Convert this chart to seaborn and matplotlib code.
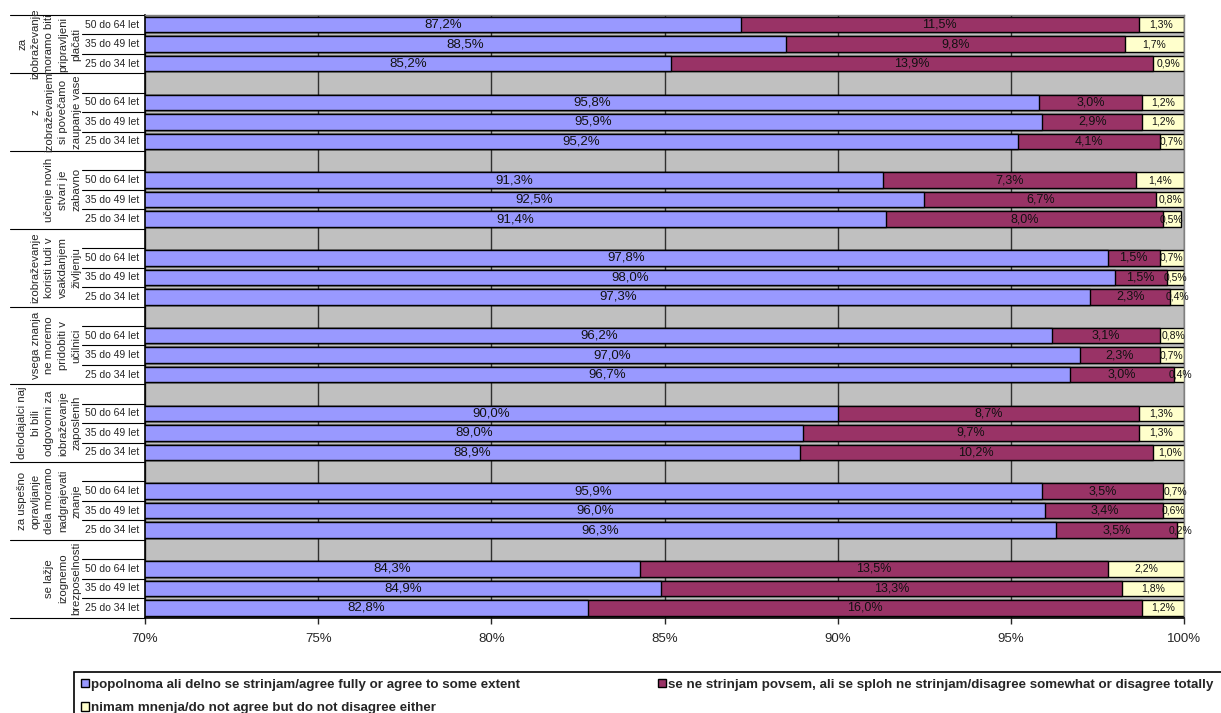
import matplotlib
matplotlib.use("Agg")
import matplotlib.pyplot as plt
import matplotlib.transforms as mtransforms
from matplotlib.patches import Patch, Rectangle
import pandas as pd
import seaborn as sns

# statements (top to bottom), each with three age groups
groups = [
    "za\nizobraževanje\nmoramo biti\npripravljeni\nplačati",
    "z\nizobraževanjem\nsi povečamo\nzaupanje vase",
    "učenje novih\nstvari je\nzabavno",
    "izobraževanje\nkoristi tudi v\nvsakdanjem\nživljenju",
    "vsega znanja\nne moremo\npridobiti v\nučilnici",
    "delodajalci naj\nbi bili\nodgovorni za\niobraževanje\nzaposlenih",
    "za uspešno\nopravljanje\ndela moramo\nnadgrajevati\nznanje",
    "se lažje\nizognemo\nbrezposelnosti",
]
ages = ["50 do 64 let", "35 do 49 let", "25 do 34 let"]

agree = [87.2, 88.5, 85.2,
         95.8, 95.9, 95.2,
         91.3, 92.5, 91.4,
         97.8, 98.0, 97.3,
         96.2, 97.0, 96.7,
         90.0, 89.0, 88.9,
         95.9, 96.0, 96.3,
         84.3, 84.9, 82.8]
disagree = [11.5, 9.8, 13.9,
            3.0, 2.9, 4.1,
            7.3, 6.7, 8.0,
            1.5, 1.5, 2.3,
            3.1, 2.3, 3.0,
            8.7, 9.7, 10.2,
            3.5, 3.4, 3.5,
            13.5, 13.3, 16.0]
neutral = [1.3, 1.7, 0.9,
           1.2, 1.2, 0.7,
           1.4, 0.8, 0.5,
           0.7, 0.5, 0.4,
           0.8, 0.7, 0.4,
           1.3, 1.3, 1.0,
           0.7, 0.6, 0.2,
           2.2, 1.8, 1.2]

legend_labels = ["popolnoma ali delno se strinjam/agree fully or agree to some extent",
                 "se ne strinjam povsem, ali se sploh ne strinjam/disagree somewhat or disagree totally",
                 "nimam mnenja/do not agree but do not disagree either"]
colors = ["#9999FF", "#993366", "#FFFFCC"]

sns.set_style("white")
plt.rcParams["font.family"] = ["Liberation Sans", "DejaVu Sans"]

W, H = 1221, 713

# slot positions: one empty slot between statements
pos = [g * 4 + i for g in range(len(groups)) for i in range(3)]
df = pd.DataFrame({"pos": pos, "agree": agree, "disagree": disagree, "neutral": neutral})
df["c1"] = df["agree"]
df["c2"] = df["agree"] + df["disagree"]
df["c3"] = df["c2"] + df["neutral"]

fig = plt.figure(figsize=(W / 100, H / 100), dpi=100)
ax = fig.add_axes([145 / W, 1 - 617.5 / H, 1039 / W, 602.5 / H])
ax.set_facecolor("#C0C0C0")

# stacked look: draw the running totals from the longest down
for col, c in [("c3", colors[2]), ("c2", colors[1]), ("c1", colors[0])]:
    sns.barplot(data=df, x=col, y="pos", orient="y", native_scale=True, color=c,
                saturation=1, edgecolor="black", linewidth=1, errorbar=None, ax=ax, zorder=2)

ax.set_xlim(70, 100)
ax.set_ylim(len(groups) * 4 - 1.5, -0.5)
ax.set_xticks(range(70, 101, 5))
ax.set_xticklabels([f"{v}%" for v in range(70, 101, 5)], fontsize=9.5)
ax.tick_params(axis="x", length=4, width=1, direction="out", pad=7, bottom=True)
ax.set_yticks([])
ax.set_xlabel("")
ax.set_ylabel("")
ax.grid(axis="x", color="#303030", linewidth=1, zorder=0)
ax.set_axisbelow(True)
for s in ["left", "bottom"]:
    ax.spines[s].set_color("black")
    ax.spines[s].set_linewidth(1.2)
for s in ["top", "right"]:
    ax.spines[s].set_color("#808080")
    ax.spines[s].set_linewidth(1)

# value labels
def fmt(v):
    return f"{v:.1f}%".replace(".", ",")

for _, r in df.iterrows():
    ax.text((70 + r["agree"]) / 2, r["pos"], fmt(r["agree"]), ha="center", va="center",
            fontsize=9.5, color="#111111", zorder=5)
    ax.text(r["agree"] + r["disagree"] / 2, r["pos"], fmt(r["disagree"]), ha="center", va="center",
            fontsize=9, color="#111111", zorder=5)
    ax.text(r["c2"] + r["neutral"] / 2, r["pos"], fmt(r["neutral"]), ha="center", va="center",
            fontsize=7.5, color="#111111", zorder=5)

# two-level category labels on the left
trans = mtransforms.blended_transform_factory(ax.transAxes, ax.transData)
x_short = (82 - 145) / 1039
x_long = (10 - 145) / 1039
for g, name in enumerate(groups):
    for i, a in enumerate(ages):
        p = g * 4 + i
        ax.text(-6 / 1039, p, a, transform=trans, ha="right", va="center", fontsize=7.5, clip_on=False)
        if i < 2:
            ax.plot([x_short, 0], [p + 0.5, p + 0.5], transform=trans, color="black", lw=0.8, clip_on=False)
    if g > 0:
        ax.plot([x_short, 0], [g * 4 - 0.5, g * 4 - 0.5], transform=trans, color="black", lw=0.8, clip_on=False)
        yc = g * 4 + 0.5
    else:
        yc = 1
    ax.plot([x_long, 0], [g * 4 + 2.5, g * 4 + 2.5], transform=trans, color="black", lw=0.8, clip_on=False)
    ax.text((81.5 - 145) / 1039, yc, name, transform=trans, rotation=90, ha="right", va="center",
            multialignment="center", fontsize=8.2, linespacing=1.45, clip_on=False)
ax.plot([x_long, 0], [-0.5, -0.5], transform=trans, color="black", lw=0.8, clip_on=False)

# legend box runs off the bottom/right edge as in the source
fig.patches.append(Rectangle((74 / W, -0.1), 1.2, 1 - 672 / H + 0.1, transform=fig.transFigure,
                             facecolor="none", edgecolor="black", linewidth=1.2))
handles = [Patch(facecolor=colors[0], edgecolor="black", label=legend_labels[0]),
           Patch(facecolor=colors[2], edgecolor="black", label=legend_labels[2]),
           Patch(facecolor=colors[1], edgecolor="black", label=legend_labels[1])]
fig.legend(handles=handles, ncol=2, loc="upper left",
           bbox_to_anchor=(74 / W, 1 - 672 / H), borderaxespad=0,
           prop={"weight": "bold", "size": 9.6}, frameon=False,
           handlelength=0.6, handleheight=0.6, handletextpad=0.2, labelspacing=0.85,
           borderpad=0.5, columnspacing=10.3)

fig.savefig("out.png", dpi=100)
